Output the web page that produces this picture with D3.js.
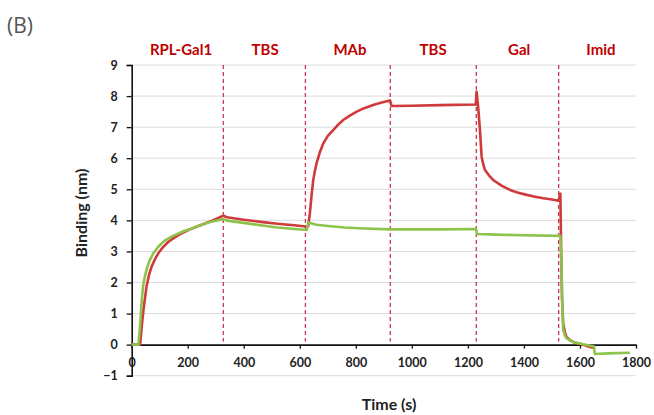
<!DOCTYPE html>
<html><head><meta charset="utf-8">
<script src="https://cdn.jsdelivr.net/npm/d3@7"></script>
<style>body{margin:0;background:#fff}svg{display:block}</style>
</head><body>
<script>
const phaseBounds = [327, 620, 923, 1230, 1524];
const phaseLabels = ["RPL-Gal1", "TBS", "MAb", "TBS", "Gal", "Imid"];
const phaseLabelTimes = [176, 476, 779, 1076, 1383, 1675];
const xTicks = [0, 200, 400, 600, 800, 1000, 1200, 1400, 1600, 1800];
const yTicks = [-1, 0, 1, 2, 3, 4, 5, 6, 7, 8, 9];

const redTime = [0,30,36,42,53,62,71,83,95,112,131,155,178,208,238,262,285,305,327,340,400,460,520,580,622,630,636,642,648,654,660,672,684,700,720,737,755,780,803,830,862,892,922,928,1000,1100,1228,1231,1237,1243,1249,1255,1261,1275,1290,1320,1350,1380,1410,1440,1469,1500,1523,1530,1533,1536,1540,1546,1552,1565,1580,1610,1630,1653];
const redVal = [0,0,0.6,1.12,1.87,2.25,2.51,2.75,2.94,3.14,3.31,3.46,3.58,3.71,3.82,3.90,3.98,4.06,4.15,4.10,4.02,3.95,3.89,3.84,3.80,3.80,4.23,4.8,5.30,5.6,5.84,6.2,6.48,6.72,6.91,7.08,7.23,7.38,7.50,7.61,7.71,7.79,7.86,7.68,7.69,7.71,7.73,8.14,7.6,6.91,6.05,5.8,5.62,5.45,5.30,5.12,4.98,4.89,4.82,4.76,4.71,4.67,4.63,4.86,3.0,1.5,0.7,0.4,0.25,0.14,0.07,0.0,-0.06,-0.12];

const greenTime = [0,24,30,36,41,47,55,65,78,95,115,135,155,185,214,245,273,300,327,340,400,460,520,580,625,630,660,700,760,830,923,1000,1100,1229,1233,1300,1400,1530,1534,1537,1540,1546,1552,1576,1611,1650,1653,1700,1778];
const greenVal = [0,0,0.6,1.44,1.9,2.19,2.48,2.73,2.95,3.15,3.33,3.44,3.53,3.65,3.74,3.84,3.93,3.99,4.04,3.99,3.92,3.84,3.77,3.72,3.69,3.93,3.86,3.82,3.77,3.74,3.71,3.71,3.71,3.72,3.56,3.54,3.52,3.50,2.5,1.2,0.5,0.3,0.2,0.08,0.01,-0.06,-0.3,-0.28,-0.26];

const W = 654, H = 415;
const svg = d3.select("body").append("svg").attr("width", W).attr("height", H);
const x = d3.scaleLinear().domain([0, 1800]).range([131.7, 636]);
const y = d3.scaleLinear().domain([-1, 9]).range([375.7, 65]);
const font = "Lato, 'Open Sans', sans-serif";

svg.append("text").attr("x", 7).attr("y", 33).text("(B)")
  .attr("font-family", "'Open Sans', sans-serif").attr("font-size", 21).attr("fill", "#555");

// gridlines
svg.append("g").selectAll("line").data(yTicks.filter(d => d !== 0)).join("line")
  .attr("x1", x(0)).attr("x2", x(1800)).attr("y1", d => y(d)).attr("y2", d => y(d))
  .attr("stroke", "#dcdcdc").attr("stroke-width", 1);

// phase dashed lines
svg.append("g").selectAll("line").data(phaseBounds).join("line")
  .attr("x1", d => x(d)).attr("x2", d => x(d)).attr("y1", y(9)).attr("y2", y(0.1))
  .attr("stroke", "#c8384e").attr("stroke-width", 1.3).attr("stroke-dasharray", "4,3");

// phase labels
svg.append("g").selectAll("text").data(phaseLabels).join("text")
  .attr("x", (d, i) => x(phaseLabelTimes[i])).attr("y", 55).attr("text-anchor", "middle")
  .attr("font-family", font).attr("font-weight", "bold").attr("font-size", 15)
  .attr("fill", "#c00000").text(d => d);

// y axis
const yAxis = svg.append("g").attr("transform", `translate(${x(0)},0)`)
  .call(d3.axisLeft(y).tickValues(yTicks).tickSize(5).tickPadding(9).tickFormat(d3.format("d")));
yAxis.select(".domain").attr("stroke", "#111").attr("stroke-width", 1.6);
yAxis.selectAll(".tick line").attr("stroke", "#111").attr("stroke-width", 1.3);
yAxis.selectAll("text").attr("font-family", font).attr("font-weight", "bold").attr("font-size", 12.5).attr("fill", "#222");

// x axis at y=0
const xAxis = svg.append("g").attr("transform", `translate(0,${y(0)})`)
  .call(d3.axisBottom(x).tickValues(xTicks).tickSize(4).tickPadding(9).tickSizeOuter(0).tickFormat(d3.format("d")));
xAxis.select(".domain").attr("stroke", "#111").attr("stroke-width", 1.6);
xAxis.selectAll(".tick line").attr("stroke", "#111").attr("stroke-width", 1.3);
xAxis.selectAll("text").attr("font-family", font).attr("font-weight", "bold").attr("font-size", 12.5).attr("fill", "#222");

// lines
const line = d3.line().x(d => x(d[0])).y(d => y(d[1]));
const redData = redTime.map((t, i) => [t, redVal[i]]);
const greenData = greenTime.map((t, i) => [t, greenVal[i]]);
svg.append("path").datum(redData).attr("d", line).attr("fill", "none")
  .attr("stroke", "#cf3a3a").attr("stroke-width", 2.6).attr("stroke-linejoin", "round");
svg.append("path").datum(greenData).attr("d", line).attr("fill", "none")
  .attr("stroke", "#8cc34a").attr("stroke-width", 2.6).attr("stroke-linejoin", "round");

// titles
svg.append("text").attr("transform", `translate(87,213) rotate(-90)`).attr("text-anchor", "middle")
  .attr("font-family", font).attr("font-weight", "bold").attr("font-size", 16).attr("fill", "#222")
  .text("Binding (nm)");
svg.append("text").attr("x", 389).attr("y", 410).attr("text-anchor", "middle")
  .attr("font-family", font).attr("font-weight", "bold").attr("font-size", 16).attr("fill", "#222")
  .text("Time (s)");
</script>
</body></html>
